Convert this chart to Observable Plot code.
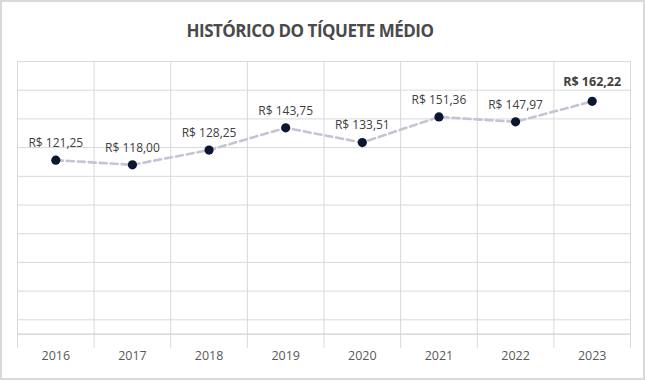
<!DOCTYPE html>
<html>
<head>
<meta charset="utf-8">
<script src="https://cdn.jsdelivr.net/npm/d3@7"></script>
<script src="https://cdn.jsdelivr.net/npm/@observablehq/plot@0.6"></script>
<style>
  html, body { margin: 0; padding: 0; background: #fff; }
  #wrap { position: relative; width: 645px; height: 385px; overflow: hidden; }
  #frame { position: absolute; left: 0; top: 0; width: 645px; height: 380px; box-sizing: border-box; border: 2px solid #d9d9d9; pointer-events: none; }
  #title { position: absolute; left: 0; top: 0; width: 620px; height: 60px; line-height: 61px; text-align: center;
           font-family: "Open Sans", sans-serif; font-weight: 700; font-size: 17px; letter-spacing: -0.5px; color: #4a4a4a; }
  #chart { position: absolute; left: 0; top: 60px; }
</style>
</head>
<body>
<div id="wrap">
  <div id="title">HISTÓRICO DO TÍQUETE MÉDIO</div>
  <div id="chart"></div>
  <div id="frame"></div>
</div>
<script>
const years = [2016, 2017, 2018, 2019, 2020, 2021, 2022, 2023];
const ticket = [121.25, 118.00, 128.25, 143.75, 133.51, 151.36, 147.97, 162.22];
const yGridTicks = [10, 30, 50, 70, 90, 110, 130, 150, 170, 190];
const yDomain = [-10, 190];

const data = years.map((y, i) => ({year: y, value: ticket[i]}));
const boundaries = years.map(y => y - 0.5).concat([years[years.length - 1] + 0.5]);
const fmt = v => "R$ " + v.toFixed(2).replace(".", ",");
const last = data.slice(-1);
const rest = data.slice(0, -1);

const chart = Plot.plot({
  width: 645,
  height: 325,
  marginTop: 1,
  marginBottom: 37,
  marginLeft: 17,
  marginRight: 15,
  style: { fontFamily: "'Open Sans', sans-serif", background: "transparent" },
  x: { type: "linear", domain: [boundaries[0], boundaries[boundaries.length - 1]], ticks: years, tickFormat: d => String(d), label: null },
  y: { domain: yDomain, axis: null },
  marks: [
    Plot.ruleY(yGridTicks, { stroke: "#d9d9d9", strokeWidth: 1, strokeOpacity: 1 }),
    Plot.ruleX(boundaries, { stroke: "#d9d9d9", strokeWidth: 1, strokeOpacity: 1 }),
    Plot.ruleY([0], { stroke: "#d0d0d0", strokeWidth: 1.2, strokeOpacity: 1 }),
    Plot.axisX({ ticks: years, tickSize: 0, tickPadding: 3, tickFormat: d => String(d), fontSize: 12.5, fill: "#595959", label: null }),
    Plot.line(data, { x: "year", y: "value", stroke: "#c4c4d4", strokeWidth: 2.6, strokeDasharray: "7,4" }),
    Plot.dot(data, { x: "year", y: "value", r: 4.6, fill: "#0b1730", stroke: "none" }),
    Plot.text(rest, { x: "year", y: "value", text: d => fmt(d.value), dy: -17, fontSize: 12, fill: "#404040" }),
    Plot.text(last, { x: "year", y: "value", text: d => fmt(d.value), dy: -19, fontSize: 12.5, fontWeight: "bold", fill: "#404040" })
  ]
});
document.getElementById("chart").appendChild(chart);
</script>
</body>
</html>
